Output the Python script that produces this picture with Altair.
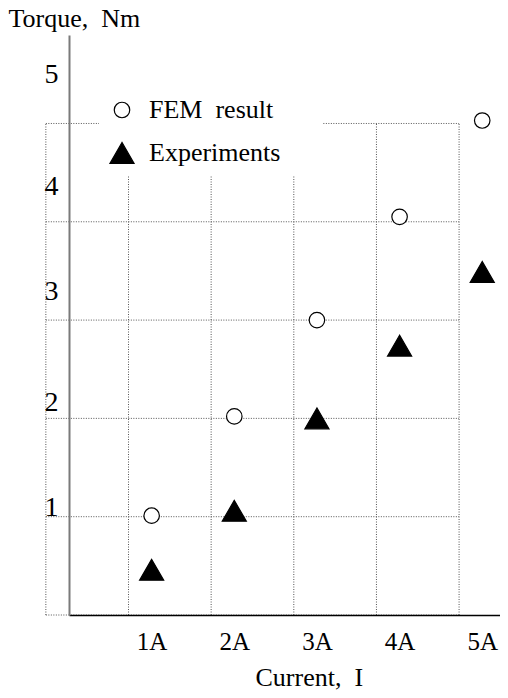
import altair as alt
import pandas as pd

# ---- data ----
currents = [1, 2, 3, 4, 5]
fem_torque = [1.01, 2.02, 3.00, 4.05, 5.03]
exp_torque = [0.46, 1.06, 2.00, 2.74, 3.49]
series_names = ["FEM result", "Experiments"]

x_tick_values = [1, 2, 3, 4, 5]
y_label_pos = [1.09, 2.16, 3.29, 4.36, 5.50]   # where the y labels 1..5 sit
grid_x = [-0.28, 0.72, 1.72, 2.72, 3.72, 4.72]
grid_y = [0, 1, 2, 3, 4, 5]

FONT = "Liberation Serif"
NB = "\u00a0"
ZW = "\u200b"

points = pd.DataFrame({
    "current": currents * 2,
    "torque": fem_torque + exp_torque,
    "series": [series_names[0]] * len(currents) + [series_names[1]] * len(currents),
})
vgrid = pd.DataFrame({"gx": grid_x, "y0": [grid_y[0]] * len(grid_x), "y1": [grid_y[-1]] * len(grid_x)})
hgrid = pd.DataFrame({"gy": grid_y, "x0": [grid_x[0]] * len(grid_y), "x1": [grid_x[-1]] * len(grid_y)})

xs = alt.Scale(domain=[0, 5.215], nice=False, zero=False)
ys = alt.Scale(domain=[0, 5.9], nice=False, zero=False)

x_axis = alt.Axis(
    values=x_tick_values, labelExpr="datum.value + 'A'", ticks=False, grid=False,
    domainColor="black", domainWidth=1.5, labelFont=FONT, labelFontSize=25,
    labelColor="black", labelPadding=14, labelBaseline="top",
    title="Current," + NB + " I", titleFont=FONT, titleFontSize=26,
    titleFontWeight="normal", titleColor="black", titleX=186, titleY=70,
    titleAlign="left", titleBaseline="alphabetic", zindex=1,
)
y_axis = alt.Axis(
    values=y_label_pos, labelExpr="floor(datum.value)", ticks=False, grid=False,
    domainColor="#7a7a7a", domainWidth=2, labelFont=FONT, labelFontSize=28,
    labelColor="black", labelPadding=18, labelAlign="center", labelBaseline="middle",
    title="Torque," + NB + " Nm", titleFont=FONT, titleFontSize=26,
    titleFontWeight="normal", titleColor="black", titleAngle=0, titleX=-61,
    titleY=-9, titleAlign="left", titleBaseline="alphabetic", zindex=1,
)

grid_style = dict(color="#555555", strokeWidth=1, strokeDash=[1, 1.5])

v_layer = alt.Chart(vgrid).mark_rule(**grid_style).encode(
    x=alt.X("gx:Q", scale=xs, axis=x_axis),
    y=alt.Y("y0:Q", scale=ys, axis=y_axis),
    y2="y1:Q",
)
h_layer = alt.Chart(hgrid).mark_rule(**grid_style).encode(
    x=alt.X("x0:Q", scale=xs, axis=x_axis),
    x2="x1:Q",
    y=alt.Y("gy:Q", scale=ys, axis=y_axis),
)

legend = alt.Legend(
    orient="none", legendX=30, legendY=52, padding=10, fillColor="white",
    title=None, labelFont=FONT, labelFontSize=26, labelColor="black",
    labelOffset=14, rowPadding=17, symbolStrokeColor="black",
    symbolStrokeWidth=1.2, symbolOpacity=1, labelLimit=0,
    labelExpr="replace(datum.label, ' ', '" + NB + " ') + '" + NB * 5 + ZW + "'",
)

p_layer = alt.Chart(points).mark_point(
    filled=True, opacity=1, strokeWidth=1.2
).encode(
    x=alt.X("current:Q", scale=xs, axis=x_axis),
    y=alt.Y("torque:Q", scale=ys, axis=y_axis),
    fill=alt.Fill("series:N", scale=alt.Scale(domain=series_names, range=["white", "black"]), legend=legend),
    stroke=alt.Stroke("series:N", scale=alt.Scale(domain=series_names, range=["black", "black"]), legend=legend),
    shape=alt.Shape("series:N", scale=alt.Scale(domain=series_names, range=["circle", "triangle-up"]), legend=legend),
    size=alt.Size("series:N", scale=alt.Scale(domain=series_names, range=[240, 580]), legend=legend),
)

chart = alt.layer(v_layer, h_layer, p_layer).properties(
    width=431, height=580,
    autosize=alt.AutoSizeParams(type="none"),
    padding={"left": 61, "top": 27, "right": 0, "bottom": 75},
    background="white",
).configure_view(stroke=None)

chart.save("out.html", embed_options={"renderer": "svg", "actions": False})
